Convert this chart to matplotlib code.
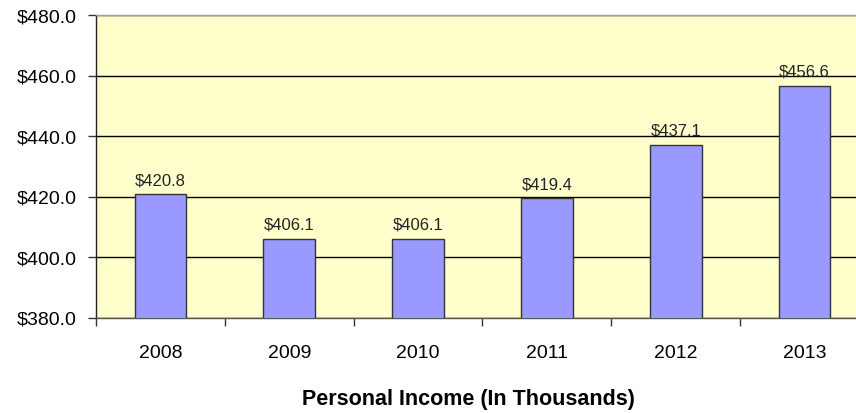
import matplotlib
matplotlib.use('Agg')
import matplotlib.pyplot as plt
from matplotlib.ticker import FixedLocator

years = ['2008', '2009', '2010', '2011', '2012', '2013']
income = [420.8, 406.1, 406.1, 419.4, 437.1, 456.6]
yTicks = [380, 400, 420, 440, 460, 480]

plt.rcParams['font.family'] = ['Liberation Sans', 'DejaVu Sans']

fig = plt.figure(figsize=(8.56, 4.14), dpi=100)
# plot area runs off the right edge like the original screenshot
ax = fig.add_axes([96 / 856, 95.5 / 414, 773 / 856, 302.5 / 414])
ax.set_facecolor('#ffffcc')

positions = list(range(len(years)))
ax.bar(positions, income, width=0.4, color='#9999ff', edgecolor='#333333',
       linewidth=1, zorder=3)

for x, v in zip(positions, income):
    ax.annotate('$%.1f' % v, (x, v), xytext=(0, 5), textcoords='offset points',
                ha='center', va='bottom', fontsize=12, color='#222222', zorder=4)

ax.set_xlim(-0.5, len(years) - 0.5)
ax.set_ylim(380, 480)
ax.set_yticks(yTicks)
ax.set_yticklabels(['$%.1f' % t for t in yTicks], fontsize=14)
ax.yaxis.grid(True, color='black', linewidth=1, zorder=1)
ax.set_axisbelow(True)

ax.set_xticks(positions)
ax.set_xticklabels(years, fontsize=14)
ax.xaxis.set_minor_locator(FixedLocator([p - 0.5 for p in positions] + [len(years) - 0.5]))
ax.tick_params(axis='x', which='major', length=0, pad=19)
ax.tick_params(axis='x', which='minor', length=6, width=1, color='#333333', direction='out')
ax.tick_params(axis='y', length=6, width=1, color='#333333', pad=8)

ax.spines['right'].set_visible(False)
ax.spines['top'].set_color('#a0a0a0')
ax.spines['left'].set_color('#222222')
ax.spines['bottom'].set_color('#555555')
for s in ax.spines.values():
    s.set_linewidth(1)

fig.text(468 / 856, 1 - 400 / 414, 'Personal Income (In Thousands)', ha='center',
         va='center', fontsize=15.5, fontweight='bold')

fig.savefig('out.png', dpi=100)
